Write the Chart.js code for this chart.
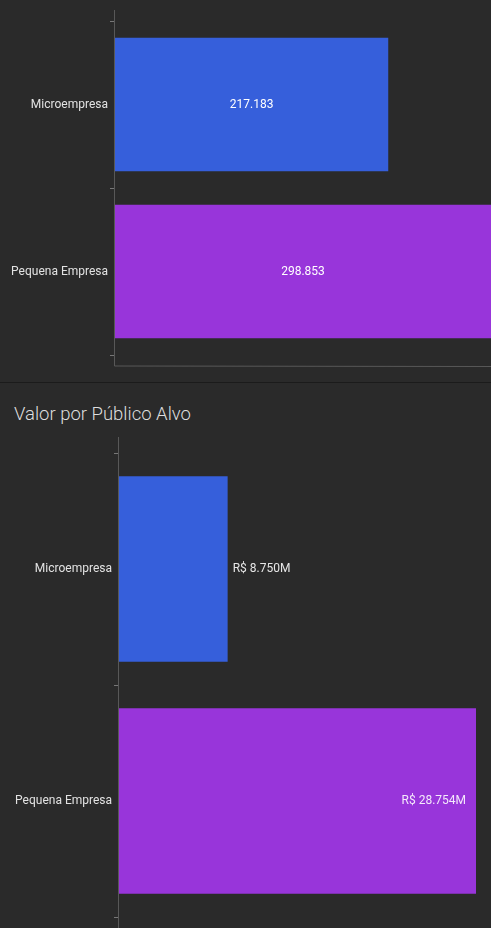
<!DOCTYPE html>
<html>
<head>
<meta charset="utf-8">
<script src="https://cdn.jsdelivr.net/npm/chart.js@4"></script>
<style>
  html, body { margin: 0; padding: 0; background: #2a2a2a; overflow: hidden; }
  body { width: 491px; height: 928px; position: relative; font-family: Roboto, sans-serif; }
  .bloco { position: absolute; left: 0; width: 491px; }
  #blocoQtd { top: 0; height: 382px; }
  #separador { position: absolute; left: 0; top: 382px; width: 491px; height: 1px; background: #1b1b1b; }
  #tituloValor { position: absolute; left: 14px; top: 401px; margin: 0; font-size: 18.5px; font-weight: 300; color: #dedede; line-height: 26px; }
  #blocoValor { top: 430px; height: 520px; }
</style>
</head>
<body>
<div class="bloco" id="blocoQtd"><canvas id="qtdChart"></canvas></div>
<div id="separador"></div>
<h2 id="tituloValor">Valor por Público Alvo</h2>
<div class="bloco" id="blocoValor"><canvas id="valorChart"></canvas></div>
<script>
// público alvo
const publicos = ['Microempresa', 'Pequena Empresa'];
const coresPublico = ['#365fdb', '#9835da'];
// quantidade de atendimentos por público
const quantidades = [217183, 298853];
// valor em milhões de R$
const valoresMi = [8.750, 28.754];

Chart.defaults.color = '#e2e2e2';
Chart.defaults.font.family = "Roboto, sans-serif";
Chart.defaults.font.size = 12;

// linhas dos eixos um pouco além da área das categorias
const eixosPlugin = {
    id: 'eixos',
    beforeDatasetsDraw(chart) {
        const { ctx, chartArea: a } = chart;
        const ext = Math.round(a.height / publicos.length * 0.067);
        ctx.save();
        ctx.strokeStyle = '#585858';
        ctx.lineWidth = 1;
        ctx.beginPath();
        ctx.moveTo(a.left - 0.5, a.top - ext);
        ctx.lineTo(a.left - 0.5, a.bottom + ext);
        ctx.lineTo(chart.width, a.bottom + ext + 0.5);
        ctx.stroke();
        ctx.restore();
    }
};

// rótulos de valor nas barras
const rotulosPlugin = {
    id: 'rotulos',
    afterDatasetsDraw(chart, args, opts) {
        const { ctx } = chart;
        const ds = chart.data.datasets[0];
        const max = Math.max(...ds.data);
        ctx.save();
        ctx.font = '12px Roboto, sans-serif';
        ctx.textBaseline = 'middle';
        chart.getDatasetMeta(0).data.forEach((bar, i) => {
            const v = ds.data[i];
            const txt = opts.format(v);
            if (opts.modo === 'centro') {
                ctx.fillStyle = '#ffffff';
                ctx.textAlign = 'center';
                ctx.fillText(txt, (bar.x + bar.base) / 2, bar.y);
            } else if (v / max < 0.5) {
                ctx.fillStyle = '#e6e6e6';
                ctx.textAlign = 'left';
                ctx.fillText(txt, bar.x + 5, bar.y);
            } else {
                ctx.fillStyle = '#f4e8fb';
                ctx.textAlign = 'right';
                ctx.fillText(txt, bar.x - 10, bar.y);
            }
        });
        ctx.restore();
    }
};

function montaGrafico(id, valores, larguraEixo, padding, rotulos) {
    return new Chart(document.getElementById(id).getContext('2d'), {
        type: 'bar',
        data: { labels: publicos, datasets: [{ data: valores, backgroundColor: coresPublico, borderWidth: 0, categoryPercentage: 0.8, barPercentage: 1 }] },
        options: {
            indexAxis: 'y',
            responsive: true, maintainAspectRatio: false, animation: false,
            layout: { padding },
            plugins: { legend: { display: false }, tooltip: { enabled: false }, rotulos },
            scales: {
                x: { display: false, min: 0, max: Math.max(...valores) },
                y: {
                    afterFit: s => { s.width = larguraEixo; },
                    border: { display: false },
                    grid: { offset: true, drawOnChartArea: false, drawTicks: true, tickLength: 5, color: '#777' },
                    ticks: { padding: 2, color: '#e2e2e2', font: { size: 12 } }
                }
            }
        },
        plugins: [eixosPlugin, rotulosPlugin]
    });
}

montaGrafico('qtdChart', quantidades, 115, { top: 21, bottom: 27, left: 0, right: 0 },
    { modo: 'centro', format: v => v.toLocaleString('pt-BR') });
montaGrafico('valorChart', valoresMi, 119, { top: 23, bottom: 33, left: 0, right: 15 },
    { modo: 'fim', format: v => 'R$ ' + v.toFixed(3) + 'M' });
</script>
</body>
</html>
